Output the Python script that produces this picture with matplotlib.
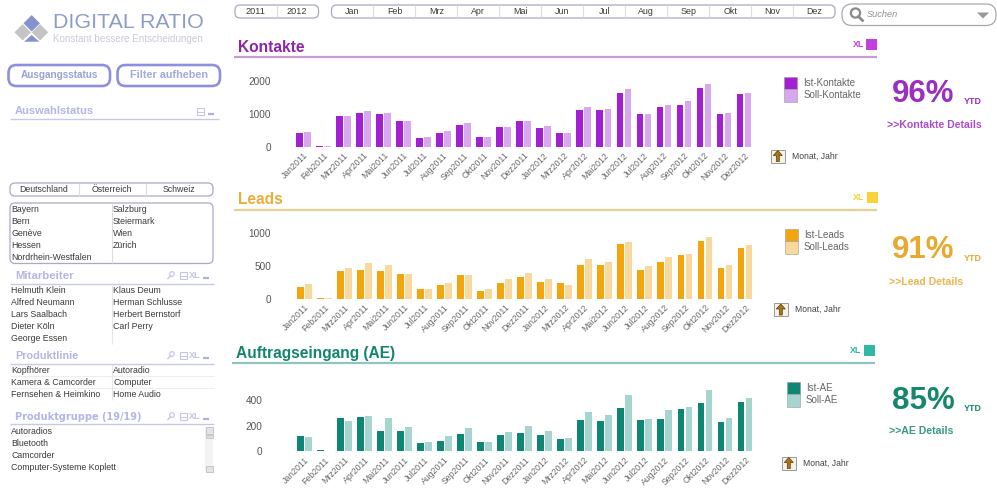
import matplotlib
matplotlib.use("Agg")
import matplotlib.pyplot as plt
from matplotlib.patches import FancyBboxPatch, Polygon, Rectangle, Circle

W, H = 997, 490
plt.rcParams['font.family'] = ['Liberation Sans', 'DejaVu Sans']

# ---------------- data ----------------
months = ["Jan2011", "Feb2011", "Mrz2011", "Apr2011", "Mai2011", "Jun2011", "Jul2011", "Aug2011",
          "Sep2011", "Okt2011", "Nov2011", "Dez2011", "Jan2012", "Mrz2012", "Apr2012", "Mai2012",
          "Jun2012", "Jul2012", "Aug2012", "Sep2012", "Okt2012", "Nov2012", "Dez2012"]
ist_kontakte = [408, 30, 940, 1040, 1010, 775, 275, 430, 650, 300, 600, 795, 570, 430, 1110, 1110,
                1650, 1010, 1215, 1275, 1805, 1010, 1600]
soll_kontakte = [450, 30, 940, 1090, 1040, 775, 300, 480, 725, 300, 600, 795, 620, 430, 1215, 1140,
                 1755, 1010, 1275, 1390, 1900, 1040, 1650]
ist_leads = [184, 15, 418, 444, 418, 372, 148, 209, 357, 122, 245, 332, 255, 235, 515, 515,
             837, 444, 556, 663, 883, 469, 776]
soll_leads = [225, 10, 464, 540, 515, 383, 148, 235, 357, 148, 296, 393, 306, 209, 602, 566,
              867, 500, 638, 684, 944, 515, 821]
ist_ae = [117, 8, 260, 267, 161, 161, 62, 81, 135, 73, 125, 143, 130, 94, 244, 236,
          335, 244, 255, 330, 374, 229, 384]
soll_ae = [112, 5, 236, 273, 260, 192, 73, 117, 179, 73, 148, 197, 156, 106, 304, 286,
           442, 255, 322, 348, 478, 260, 416]
ticks_kontakte = [0, 1000, 2000]
ticks_leads = [0, 500, 1000]
ticks_ae = [0, 200, 400]
years = ["2011", "2012"]
month_buttons = ["Jan", "Feb", "Mrz", "Apr", "Mai", "Jun", "Jul", "Aug", "Sep", "Okt", "Nov", "Dez"]
countries = ["Deutschland", "Österreich", "Schweiz"]
regions_a = ["Bayern", "Bern", "Genève", "Hessen", "Nordrhein-Westfalen"]
regions_b = ["Salzburg", "Steiermark", "Wien", "Zürich"]
staff_a = ["Helmuth Klein", "Alfred Neumann", "Lars Saalbach", "Dieter Köln", "George Essen"]
staff_b = ["Klaus Deum", "Herman Schlusse", "Herbert Bernstorf", "Carl Perry"]
lines_a = ["Kopfhörer", "Kamera & Camcorder", "Fernsehen & Heimkino"]
lines_b = ["Autoradio", "Computer", "Home Audio"]
groups = ["Autoradios", "Bluetooth", "Camcorder", "Computer-Systeme Koplett"]

fig = plt.figure(figsize=(W / 100, H / 100), dpi=100, facecolor="white")
ui = fig.add_axes([0, 0, 1, 1])
ui.set_xlim(0, W)
ui.set_ylim(H, 0)
ui.axis("off")

TXT = "#3a3a3a"


def t(x, y, s, size=6.35, color=TXT, ha="left", weight="normal", style="normal", **kw):
    ui.text(x, y, s, fontsize=size, color=color, ha=ha, va="center", fontweight=weight,
            fontstyle=style, **kw)


def rbox(x0, y0, x1, y1, r, ec, lw=1.0, fc="white"):
    ui.add_patch(FancyBboxPatch((x0 + r, y0 + r), x1 - x0 - 2 * r, y1 - y0 - 2 * r,
                                boxstyle=f"round,pad={r},rounding_size={r}", ec=ec, fc=fc, lw=lw))


def hline(y, x0, x1, color, lw=1.0):
    ui.plot([x0, x1], [y, y], color=color, lw=lw, solid_capstyle="butt")


def vline(x, y0, y1, color, lw=0.8):
    ui.plot([x, x], [y0, y1], color=color, lw=lw, solid_capstyle="butt")


# ---------------- logo ----------------
for cx, cy, c in [(31.7, 23.3, "#8492cf"), (22.7, 32.3, "#c4c4c4"), (40, 32.3, "#c4c4c4")]:
    ui.add_patch(Polygon([(cx, cy - 8.2), (cx + 8.2, cy), (cx, cy + 8.2), (cx - 8.2, cy)], fc=c, ec="none"))
ui.add_patch(Polygon([(31.7, 35), (24, 41.7), (39.3, 41.7)], fc="#8492cf", ec="none"))
t(53, 23, "DIGITAL RATIO", size=15.4, color="#8f9cc6")
t(53, 39, "Konstant bessere Entscheidungen", size=7.1, color="#c8ccd6")

# ---------------- buttons ----------------
rbox(8.5, 65, 110, 86, 8, "#8f8fe0", lw=1.9)
rbox(117.5, 65, 220, 86, 8, "#8f8fe0", lw=1.9)
t(59.5, 75.5, "Ausgangsstatus", size=7.2, color="#9aa0d8", ha="center", weight="bold")
t(169, 75.5, "Filter aufheben", size=7.8, color="#a4a8dc", ha="center", weight="bold")


def icons(xs, y, xl=True, mag=True):
    col = "#c6c6e6"
    if mag:
        ui.add_patch(Circle((xs[0] + 1, y - 1), 2.3, fc="none", ec=col, lw=0.9))
        ui.plot([xs[0] - 0.8, xs[0] - 3], [y + 1, y + 3.5], color=col, lw=1)
    ui.add_patch(Rectangle((xs[1] - 3.5, y - 3.5), 7, 7, fc="none", ec=col, lw=0.8))
    hline(y + 1, xs[1] - 3.5, xs[1] + 3.5, col, 0.7)
    if xl:
        t(xs[2], y, "XL", size=6.5, color=col, ha="center", weight="bold")
    hline(y + 3, xs[3] - 3, xs[3] + 3, "#b0b0e0", 1.6)


HEAD = "#b3b5e6"
LINE = "#c8c8e8"

# Auswahlstatus
t(15, 111, "Auswahlstatus", size=8, color=HEAD, weight="bold")
hline(119.5, 10, 219, LINE, 1)
icons((0, 200.5, 0, 211), 111, xl=False, mag=False)

# countries
rbox(10, 183, 213, 196, 5, "#a9a9c4", lw=0.9)
for x in (78.5, 145.5):
    vline(x, 183.5, 195.5, "#dddde8")
for x, s in zip((44, 112, 179), countries):
    t(x, 189, s, ha="center")

# regions
rbox(10, 203, 213, 263.5, 5, "#a9a9c4", lw=0.9)
vline(111.5, 203.5, 263, "#dddde8")
for i, s in enumerate(regions_a):
    t(11.5, 209 + 12 * i, s)
for i, s in enumerate(regions_b):
    t(113, 209 + 12 * i, s)

# Mitarbeiter
t(15, 276, "Mitarbeiter", size=8.2, color=HEAD, weight="bold")
hline(283.5, 10, 214, LINE, 1)
icons((171, 183, 195, 206), 275)
for i, s in enumerate(staff_a):
    t(11, 290 + 12 * i, s)
for i, s in enumerate(staff_b):
    t(113, 290 + 12 * i, s)
vline(111.5, 284, 344, "#e6e6ee")

# Produktlinie
t(15, 356, "Produktlinie", size=7.8, color=HEAD, weight="bold")
hline(363.5, 10, 214, LINE, 1)
icons((171, 183, 195, 206), 355)
for i, (a, b) in enumerate(zip(lines_a, lines_b)):
    t(11, 370 + 12 * i, a)
    t(113, 370 + 12 * i, b)
    if i < 2:
        hline(376 + 12 * i, 10, 214, "#eeeeee", 0.8)
vline(111.5, 364, 400, "#e6e6ee")

# Produktgruppe
t(15, 417, "Produktgruppe (19/19)", size=7, color=HEAD, weight="bold", family=["DejaVu Sans"])
hline(424, 10, 214, LINE, 1)
icons((171, 183, 195, 206), 416)
for i, s in enumerate(groups):
    t(11, 431 + 12 * i, s)
ui.add_patch(Rectangle((205, 427), 8, 45, fc="#f3f3f3", ec="none"))
for y0 in (427, 465.5):
    ui.add_patch(Rectangle((205.5, y0), 7, 6.5, fc="#e4e4e4", ec="#b5b5b5", lw=0.5))
ui.add_patch(Rectangle((205.5, 435), 7, 3, fc="#dddddd", ec="#bcbcbc", lw=0.5))

# ---------------- top selectors ----------------
rbox(235, 5, 318.5, 18, 5, "#a9a9c4", lw=0.9)
vline(276.5, 5.5, 17.5, "#dddde8")
for x, s in zip((255.5, 296.5), years):
    t(x, 11.5, s, size=6.6, ha="center")
rbox(331.5, 5, 835, 18, 5, "#a9a9c4", lw=0.9)
step = (835 - 331.5) / 12
for i, s in enumerate(month_buttons):
    t(331.5 + step * (i + 0.5), 11.5, s, size=6.4, ha="center")
    if i:
        vline(331.5 + step * i, 5.5, 17.5, "#dddde8")

# search
rbox(842, 4, 996, 25.5, 10, "#aaaaaa", lw=0.9)
ui.add_patch(Circle((855.5, 13), 4.6, fc="none", ec="#8a8a8a", lw=1.6))
ui.plot([858.5, 862.5], [16.5, 20.5], color="#8a8a8a", lw=2)
t(866.5, 14.5, "Suchen", size=6.6, color="#8f8f8f", style="italic")
ui.add_patch(Polygon([(977, 12.5), (989, 12.5), (983, 18.5)], fc="#999999", ec="none"))


# ---------------- chart panels ----------------
def panel(title, title_xy, line_y, line_x, xl_xy, sq_x, ist, soll, c_ist, c_soll, c_title, c_line, c_sq,
          ticks, y0, px_per_unit, x0_c, label_right, names, leg_x, leg_y, leg_tx, arrow_xy,
          kpi, kpi_y, ytd_x, ytd_y, link, link_x, link_y, c_kpi):
    t(title_xy[0], title_xy[1], title, size=11.2, color=c_title, weight="bold")
    hline(line_y, line_x[0], line_x[1], c_line, 1.6)
    t(xl_xy[0], xl_xy[1], "XL", size=6.4, color=c_sq, ha="center", weight="bold")
    ui.add_patch(Rectangle((sq_x, xl_xy[1] - 5), 10.5, 10.5, fc=c_sq, ec="none"))

    spacing = 20.03
    left, right = x0_c - 0.75 * spacing, x0_c + 22.75 * spacing
    top = y0 - 72
    ax = fig.add_axes([left / W, 1 - y0 / H, (right - left) / W, (y0 - top) / H])
    ax.patch.set_alpha(0)
    pos = list(range(len(months)))
    ax.bar([p - 0.2 for p in pos], ist, 0.335, color=c_ist)
    ax.bar([p + 0.2 for p in pos], soll, 0.335, color=c_soll)
    ax.set_xlim(-0.75, 22.75)
    ax.set_ylim(0, (y0 - top) / px_per_unit)
    for s in ax.spines.values():
        s.set_visible(False)
    ax.set_yticks(ticks)
    ax.tick_params(axis="y", length=0, pad=(left - label_right) * 0.72, labelsize=7.2, labelcolor="#555555")
    ax.set_xticks(pos)
    ax.set_xticklabels(months, rotation=45, ha="right", va="top", rotation_mode="anchor",
                       fontsize=6.3, color="#6a6a6a")
    ax.tick_params(axis="x", length=0, pad=3)

    # legend
    ui.add_patch(Rectangle((leg_x, leg_y), 12.7, 12.3, fc=c_ist, ec="#999999", lw=0.4))
    ui.add_patch(Rectangle((leg_x, leg_y + 12.3), 12.7, 12.3, fc=c_soll, ec="#999999", lw=0.4))
    t(leg_tx, leg_y + 6, names[0], size=7, color="#666666")
    t(leg_tx, leg_y + 18, names[1], size=7, color="#666666")

    # drill icon
    ax0, ay0 = arrow_xy
    ui.add_patch(Rectangle((ax0, ay0), 13.5, 13, fc="#f4f1e6", ec="#9a9a9a", lw=0.7))
    ui.add_patch(Polygon([(ax0 + 6.8, ay0 + 1), (ax0 + 11.3, ay0 + 6), (ax0 + 8.3, ay0 + 6), (ax0 + 8.3, ay0 + 12),
                          (ax0 + 5.3, ay0 + 12), (ax0 + 5.3, ay0 + 6), (ax0 + 2.3, ay0 + 6)], fc="#a8761a", ec="#5c3d08", lw=0.5))
    t(ax0 + 20.5, ay0 + 6.7, "Monat, Jahr", size=6.2, color="#444444")

    # KPI
    t(954.5, kpi_y, kpi, size=22.5, color=c_kpi, ha="right", weight="bold")
    t(ytd_x, ytd_y, "YTD", size=6.4, color=c_kpi, ha="right", weight="bold")
    t(link_x, link_y, link, size=7.6, color=c_kpi, weight="bold", alpha=0.85)


panel("Kontakte", (238, 47.5), 57.5, (234, 877), (859, 44.5), 866, ist_kontakte, soll_kontakte,
      "#a31fd3", "#d8a8ee", "#8e24aa", "#c89bd2", "#c23fe0",
      ticks_kontakte, 146.6, 32.7 / 1000, 303.4, 271, ("Ist-Kontakte", "Soll-Kontakte"),
      784, 77, 803.5, (771, 149.5), "96%", 94, 982, 101.5, ">>Kontakte Details", 887, 125, "#9a2fc0")
panel("Leads", (238, 199.5), 210, (234, 877), (859, 197), 867, ist_leads, soll_leads,
      "#f2a50c", "#f8d89c", "#e8ae3a", "#e6d190", "#f7d23a",
      ticks_leads, 298.7, 32.7 / 500, 304.3, 271, ("Ist-Leads", "Soll-Leads"),
      785, 229, 804, (774, 303), "91%", 250, 982, 258, ">>Lead Details", 889, 282, "#e8a92e")
panel("Auftragseingang (AE)", (236, 353), 363, (232, 875), (856, 350), 864, ist_ae, soll_ae,
      "#0f8573", "#a6d4ce", "#128570", "#8fc5bf", "#2fb8a4",
      ticks_ae, 451.3, 25.7 / 200, 304.3, 262.5, ("Ist-AE", "Soll-AE"),
      787, 382, 806, (782, 456.5), "85%", 401, 982, 408.5, ">>AE Details", 889, 431, "#16876f")

fig.savefig("out.png", dpi=100, facecolor="white")
